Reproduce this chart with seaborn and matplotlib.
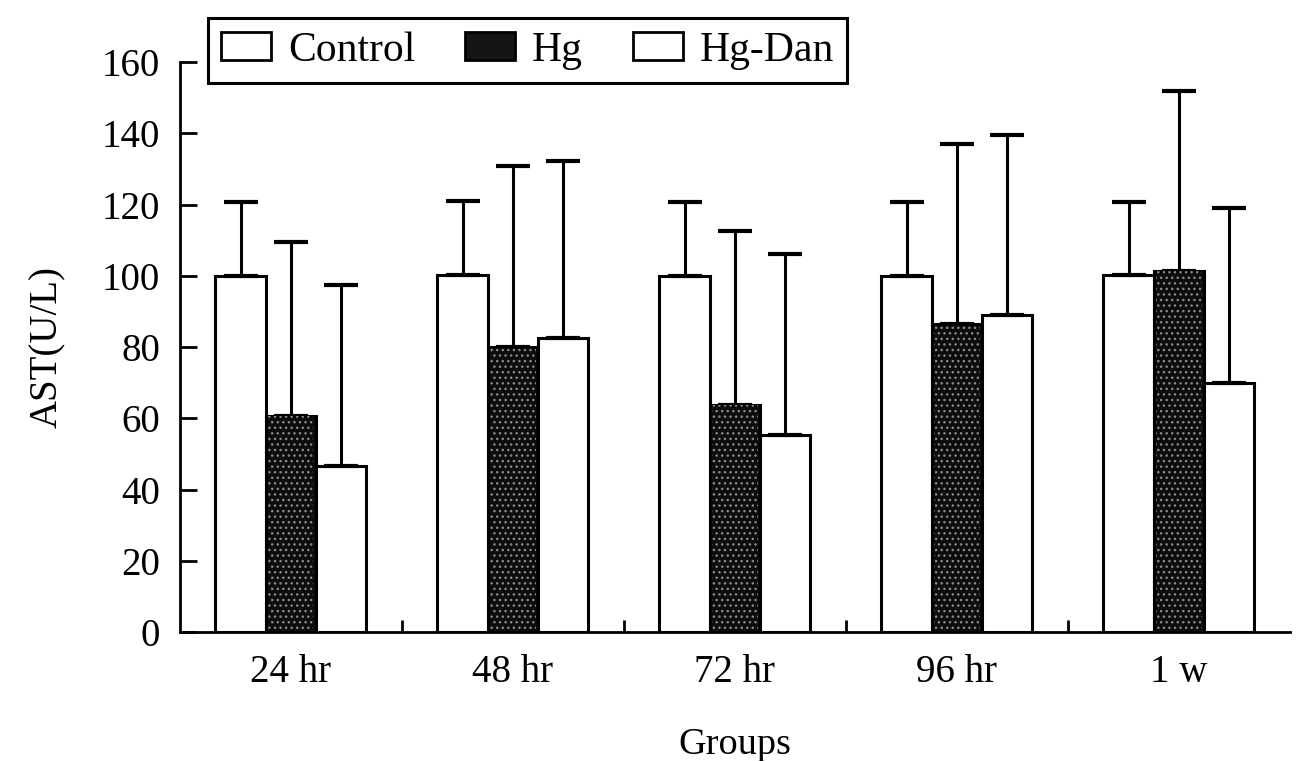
import matplotlib
matplotlib.use("Agg")
import matplotlib.pyplot as plt
import seaborn as sns
import pandas as pd
import numpy as np
from matplotlib.patches import Patch

groups = ["24 hr", "48 hr", "72 hr", "96 hr", "1 w"]
treatments = ["Control", "Hg", "Hg-Dan"]
control_mean = [100.0, 100.3, 100.0, 100.0, 100.2]
control_err = [20.6, 20.6, 20.7, 20.6, 20.5]
hg_mean = [60.6, 80.0, 63.7, 86.6, 101.3]
hg_err = [49.0, 50.8, 48.9, 50.3, 50.5]
hgdan_mean = [46.6, 82.6, 55.4, 88.9, 69.8]
hgdan_err = [50.8, 49.7, 50.8, 50.6, 49.2]

sns.set_theme(style="ticks")
plt.rcParams["font.family"] = ["Liberation Serif", "DejaVu Serif"]
plt.rcParams["hatch.linewidth"] = 1.0
for k in ["text.color", "axes.labelcolor", "xtick.color", "ytick.color", "axes.edgecolor"]:
    plt.rcParams[k] = "black"

means = {"Control": control_mean, "Hg": hg_mean, "Hg-Dan": hgdan_mean}
errs = {"Control": control_err, "Hg": hg_err, "Hg-Dan": hgdan_err}
rows = []
for t in treatments:
    for g, m, e in zip(groups, means[t], errs[t]):
        rows.append({"Group": g, "Treatment": t, "AST": m, "SD": e})
df = pd.DataFrame(rows)

fig = plt.figure(figsize=(13.03, 7.61), dpi=100)
ax = fig.add_axes([0.138, 0.1695, 0.852, 0.749])

dark = "#0d0d0d"
palette = {"Control": "white", "Hg": dark, "Hg-Dan": "white"}
sns.barplot(data=df, x="Group", y="AST", hue="Treatment", order=groups,
            hue_order=treatments, palette=palette, width=0.68, gap=0,
            edgecolor="black", linewidth=2.2, errorbar=None, ax=ax,
            legend=False, saturation=1)

for ti, t in enumerate(treatments):
    cont = ax.containers[ti]
    for bi, bar in enumerate(cont.patches):
        x = bar.get_x() + bar.get_width() / 2
        h = bar.get_height()
        if t == "Hg":
            ax.bar(x, h, width=bar.get_width() * 0.9, facecolor="none",
                   edgecolor="#8a8a8a", hatch="...", linewidth=0,
                   zorder=bar.get_zorder() + 0.1)
        ax.errorbar([x], [h], yerr=[[0], [errs[t][bi]]], fmt="none",
                    ecolor="black", elinewidth=2.2, capsize=12, capthick=3, zorder=1)

ax.set_ylim(0, 160)
ax.set_xlim(-0.5, 4.5)
ax.set_yticks(np.arange(0, 161, 20))
ax.set_yticklabels([str(v) for v in range(0, 161, 20)], fontsize=28)
ax.set_xticks(range(len(groups)))
ax.set_xticklabels(groups, fontsize=28)
ax.set_xticks([0.5, 1.5, 2.5, 3.5], minor=True)
ax.tick_params(axis="x", which="major", length=0, pad=16)
ax.tick_params(axis="x", which="minor", direction="in", length=9, width=2, color="black")
ax.tick_params(axis="y", direction="in", length=12, width=2, pad=14, color="black")
for s in ["top", "right"]:
    ax.spines[s].set_visible(False)
for s in ["left", "bottom"]:
    ax.spines[s].set_linewidth(2)
    ax.spines[s].set_color("black")

ax.set_xlabel("Groups", fontsize=27.5, labelpad=26)
ax.set_ylabel("AST(U/L)", fontsize=28, labelpad=26)

handles = [Patch(facecolor="white", edgecolor="black", linewidth=2),
           Patch(facecolor="#151515", edgecolor="black", linewidth=2),
           Patch(facecolor="white", edgecolor="black", linewidth=2)]
leg = fig.legend(handles, treatments, loc="upper left",
                 bbox_to_anchor=(208 / 1303, 1 - 18 / 761), ncol=3,
                 fontsize=30, frameon=True, fancybox=False, handlelength=1.2,
                 handleheight=0.65, handletextpad=0.4, columnspacing=1.2,
                 borderpad=0.32, borderaxespad=0)
leg.get_frame().set_edgecolor("black")
leg.get_frame().set_linewidth(2.2)
leg.get_frame().set_alpha(1)

fig.savefig("out.png", dpi=100, facecolor="white")
